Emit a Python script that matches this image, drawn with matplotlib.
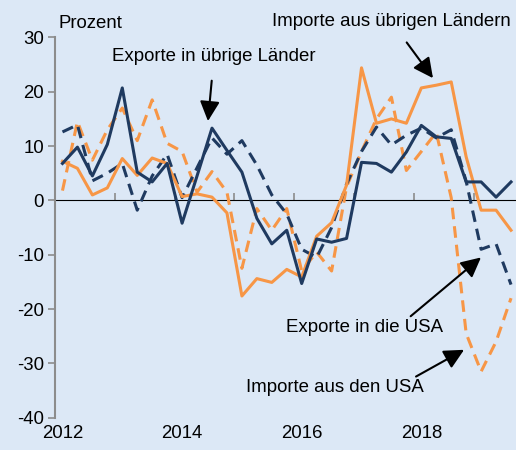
import matplotlib.pyplot as plt

# Quarterly growth rates, 2012Q1 .. 2019Q3 (Prozent)
quarters = list(range(31))
year_labels = ['2012', '2014', '2016', '2018']
year_label_pos = [0, 8, 16, 24]

exp_other = [6.8, 9.8, 4.5, 10.3, 20.7, 5.2, 3.4, 6.8, -4.2, 4.5, 13.3, 9.2, 5.2, -3.3, -8.0, -5.5,
             -15.3, -7.1, -7.7, -7.0, 7.0, 6.8, 5.2, 8.9, 13.8, 11.7, 11.4, 3.4, 3.4, 0.6, 3.4]
exp_usa = [12.6, 13.9, 3.6, 5.0, 6.8, -1.8, 4.5, 8.5, 0.5, 6.0, 11.5, 8.5, 11.0, 6.5, 1.0, -2.5,
           -9.0, -10.5, -5.0, 3.0, 9.0, 13.5, 10.2, 12.0, 13.3, 11.5, 13.0, 3.5, -9.0, -8.0, -15.5]
imp_other = [7.2, 5.9, 1.0, 2.3, 7.7, 4.6, 7.8, 6.8, 0.7, 1.2, 0.6, -2.3, -17.6, -14.4, -15.1, -12.7,
             -14.1, -6.6, -4.1, 2.8, 24.4, 14.2, 15.0, 14.2, 20.7, 21.2, 21.8, 8.0, -1.8, -1.8, -5.5]
imp_usa = [1.8, 14.5, 7.4, 13.0, 17.0, 11.0, 18.5, 10.5, 9.0, 1.5, 5.3, 1.5, -12.5, -1.5, -5.5, -1.5,
           -13.0, -9.5, -13.0, 2.5, 9.0, 15.0, 19.0, 5.5, 9.0, 12.5, 0.5, -24.5, -31.5, -26.0, -18.0]

navy = '#1f3a60'
orange = '#f79646'
bg = '#dce8f6'
grey = '#8c8c8c'

plt.rcParams['font.family'] = ['Liberation Sans', 'DejaVu Sans']
plt.rcParams['axes.unicode_minus'] = False
fs = 13.4

fig = plt.figure(figsize=(5.16, 4.5), dpi=100, facecolor=bg)
ax = fig.add_axes([55 / 516, 1 - 417.7 / 450, 463.5 / 516, 380.3 / 450])
ax.set_facecolor(bg)

ax.plot(quarters, imp_usa, color=orange, lw=2.2, dashes=(3.8, 2.3))
ax.plot(quarters, exp_usa, color=navy, lw=2.2, dashes=(3.8, 2.3))
ax.plot(quarters, imp_other, color=orange, lw=2.2)
ax.plot(quarters, exp_other, color=navy, lw=2.2)

ax.set_xlim(-0.5, 30.5)
ax.set_ylim(-40, 30)

# y axis
ax.set_yticks(range(-40, 31, 10))
ax.tick_params(axis='y', direction='out', length=5, width=1.2, color=grey, labelsize=fs, pad=3)
ax.spines['left'].set_color(grey)
ax.spines['left'].set_linewidth(1.5)
for s in ['top', 'right', 'bottom']:
    ax.spines[s].set_visible(False)

# year labels at the bottom
ax.set_xticks(year_label_pos)
ax.set_xticklabels(year_labels)
ax.tick_params(axis='x', length=0, labelsize=fs, pad=5)

# zero line with year-boundary ticks
zero_ax = ax.secondary_xaxis(40 / 70)
zero_ax.set_xticks([q - 0.5 for q in quarters[::4]])
zero_ax.xaxis.set_ticklabels([])
zero_ax.tick_params(axis='x', direction='out', length=5, width=1.2, color=grey)
zero_ax.spines['bottom'].set_color(grey)
zero_ax.spines['bottom'].set_linewidth(1.5)

fig.text(59 / 516, 1 - 23 / 450, 'Prozent', fontsize=fs, va='center', ha='left')

arrow = dict(arrowstyle='-|>,head_length=0.9,head_width=0.45', color='black', lw=1.5)
ax.annotate('Exporte in übrige Länder', xy=(9.73, 14.6), xytext=(10.13, 26.4), fontsize=fs,
            ha='center', va='center', arrowprops=dict(arrow, shrinkA=9, shrinkB=0),
            annotation_clip=False)
ax.annotate('Importe aus übrigen Ländern', xy=(24.78, 22.5), xytext=(21.97, 33.0), fontsize=fs,
            ha='center', va='center', arrowprops=dict(arrow, shrinkA=9, shrinkB=0),
            annotation_clip=False)
ax.annotate('Exporte in die USA', xy=(27.99, -10.5), xytext=(20.23, -23.4), fontsize=fs,
            ha='center', va='center', arrowprops=dict(arrow, shrinkA=0, shrinkB=0,
                                                      relpos=(0.77, 1.0)),
            annotation_clip=False)
ax.annotate('Importe aus den USA', xy=(26.86, -27.5), xytext=(18.2, -34.5), fontsize=fs,
            ha='center', va='center', arrowprops=dict(arrow, shrinkA=0, shrinkB=0,
                                                      relpos=(0.93, 1.0)),
            annotation_clip=False)

fig.savefig('out.png', dpi=100, facecolor=bg)
